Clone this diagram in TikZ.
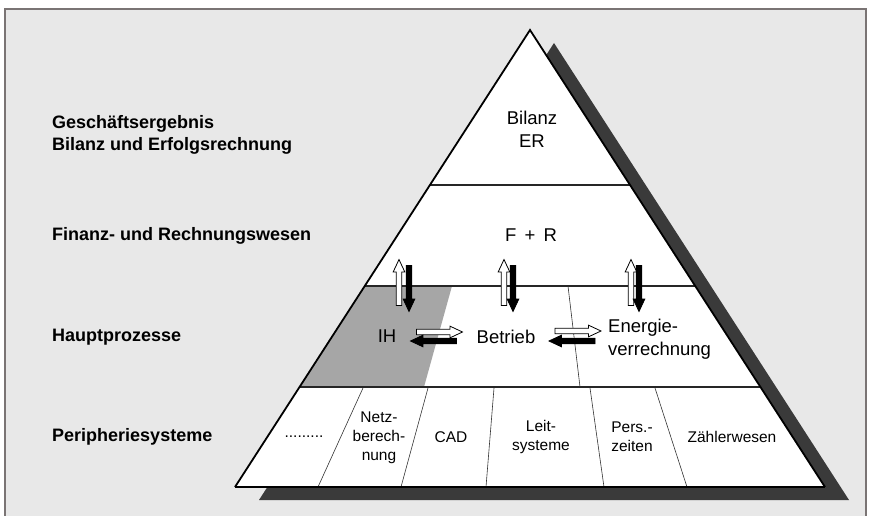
\documentclass[tikz,border=0pt]{standalone}
\usepackage{fontspec}
\setmainfont{Liberation Sans}
\usetikzlibrary{shapes.arrows}
\definecolor{bgpaper}{HTML}{E8E8E8}
\definecolor{shadowgray}{HTML}{3A3A3A}
\definecolor{ihgray}{HTML}{A6A6A6}
\definecolor{framegray}{HTML}{7A7474}
\begin{document}
\begin{tikzpicture}[x=1pt,y=-1pt,
  lbl/.style={font=\fontsize{18}{21.5}\selectfont\bfseries, anchor=west, align=left, inner sep=0},
  big/.style={font=\fontsize{18.5}{23}\selectfont, align=center, inner sep=0},
  small/.style={font=\fontsize{15.5}{19}\selectfont, align=center, inner sep=0},
  warr/.style={single arrow, draw=black, fill=white, line width=0.8pt, inner sep=2.4pt,
     single arrow head extend=3pt, single arrow tip angle=50, minimum height=46pt},
  barr/.style={warr, fill=black},
  edge/.style={line width=1.8pt, line join=miter},
  hline/.style={line width=1.3pt, draw=black!85},
  divline/.style={line width=0.6pt, draw=black!80}
]
\useasboundingbox (0,0) rectangle (871,516);
% paper and frame
\fill[white] (0,0) rectangle (871,516);
\fill[bgpaper] (5,9) rectangle (866,516);
\draw[framegray, line width=1.2pt] (5,516) -- (5,9) -- (866,9) -- (866,516);

% pyramid corners
\coordinate (A) at (530,30);
\coordinate (BL) at (235,487);
\coordinate (BR) at (825,487);
% shadow
\fill[shadowgray] (554,43) -- (849,500) -- (259,500) -- cycle;
% pyramid body
\fill[white] (A) -- (BR) -- (BL) -- cycle;
% IH gray area
\fill[ihgray] (364.8,286) -- (452,286) -- (424,387) -- (299.6,387) -- cycle;
% level lines
\coordinate (L1) at (430,185); \coordinate (R1) at (630,185);
\coordinate (L2) at (364.8,286); \coordinate (R2) at (695.2,286);
\coordinate (L3) at (299.6,387); \coordinate (R3) at (760.4,387);
\draw[hline] (L1) -- (R1);
\draw[hline] (L2) -- (R2);
\draw[hline] (L3) -- (R3);
% dividers
\draw[divline] (568,286) -- (580,387);
\draw[divline] (363,388) -- (318,487);
\draw[divline] (428,388) -- (401,487);
\draw[divline] (494,388) -- (486,487);
\draw[divline] (590,388) -- (604,487);
\draw[divline] (655,388) -- (687,487);
% outline
\draw[edge] (BL) -- (A) -- (BR);
\draw[line width=1.4pt] (BL) -- (BR);

% left labels
\node[lbl] (lgesch) at (52,135) {Geschäftsergebnis\\Bilanz und Erfolgsrechnung};
\node[lbl] (lfinanz) at (52,236) {Finanz- und Rechnungswesen};
\node[lbl] (lhaupt) at (52,337) {Hauptprozesse};
\node[lbl] (lperi) at (52,437) {Peripheriesysteme};

% pyramid texts
\node[big] (bilanz) at (532,129) {Bilanz\\ER};
\node[big] (fr) at (531,235) {F\,\ +\ \,R};
\node[big] (ih) at (387,336) {IH};
\node[big] (betrieb) at (506,337) {Betrieb};
\node[big, anchor=west, align=left] (energie) at (608,339) {Energie-\\verrechnung};

\node[small] (dots) at (304,437) {.........};
\node[small] (netz) at (379,438) {Netz-\\berech-\\nung};
\node[small] (cad) at (451,437) {CAD};
\node[small] (leit) at (541,437) {Leit-\\systeme};
\node[small] (pers) at (632,437) {Pers.-\\zeiten};
\node[small] (zaehler) at (732,437) {Zählerwesen};

% vertical arrow pairs
\node[warr, rotate=90] (up1) at (399,285.5) {};
\node[barr, rotate=-90] (dn1) at (409,285.5) {};
\node[warr, rotate=90] (up2) at (504,285.5) {};
\node[barr, rotate=-90] (dn2) at (513,285.5) {};
\node[warr, rotate=90] (up3) at (631,285.5) {};
\node[barr, rotate=-90] (dn3) at (639,285.5) {};
% horizontal arrow pairs
\node[warr] (r1) at (436.5,332) {};
\node[barr, rotate=180] (l1) at (436.5,341) {};
\node[warr] (r2) at (575,331) {};
\node[barr, rotate=180] (l2) at (575,341) {};
\end{tikzpicture}
\end{document}
